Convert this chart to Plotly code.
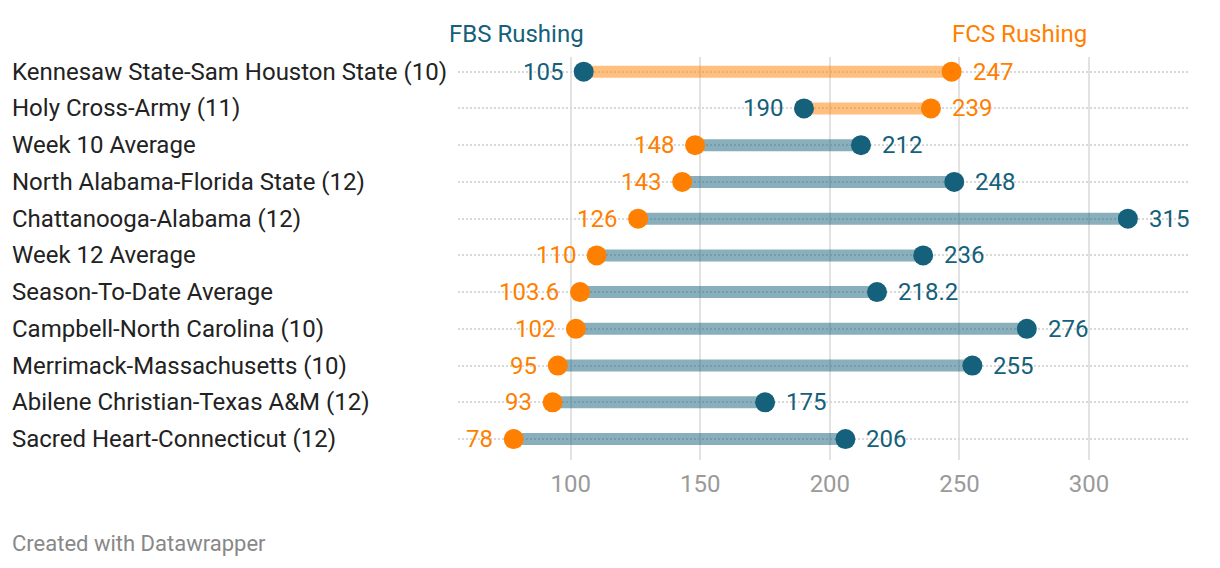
import plotly.graph_objects as go

categories = [
    "Kennesaw State-Sam Houston State (10)",
    "Holy Cross-Army (11)",
    "Week 10 Average",
    "North Alabama-Florida State (12)",
    "Chattanooga-Alabama (12)",
    "Week 12 Average",
    "Season-To-Date Average",
    "Campbell-North Carolina (10)",
    "Merrimack-Massachusetts (10)",
    "Abilene Christian-Texas A&M (12)",
    "Sacred Heart-Connecticut (12)",
]
fbs_rushing = [105, 190, 212, 248, 315, 236, 218.2, 276, 255, 175, 206]
fcs_rushing = [247, 239, 148, 143, 126, 110, 103.6, 102, 95, 93, 78]
fbs_text = ["105", "190", "212", "248", "315", "236", "218.2", "276", "255", "175", "206"]
fcs_text = ["247", "239", "148", "143", "126", "110", "103.6", "102", "95", "93", "78"]
x_ticks = [100, 150, 200, 250, 300]

TEAL = "#15607a"
ORANGE = "#ff7f00"
TEAL_BAR = "rgba(21,96,122,0.5)"
ORANGE_BAR = "rgba(255,127,0,0.5)"
FONT = "Roboto"

rows = list(range(len(categories)))

fig = go.Figure()

# range bars, coloured by which series is larger
ox, oy, tx, ty = [], [], [], []
for i, (a, b) in enumerate(zip(fbs_rushing, fcs_rushing)):
    if b > a:
        ox += [a, b, None]; oy += [i, i, None]
    else:
        tx += [a, b, None]; ty += [i, i, None]
fig.add_trace(go.Scatter(x=ox, y=oy, mode="lines", line=dict(color=ORANGE_BAR, width=12),
                         hoverinfo="skip", showlegend=False))
fig.add_trace(go.Scatter(x=tx, y=ty, mode="lines", line=dict(color=TEAL_BAR, width=12),
                         hoverinfo="skip", showlegend=False))

fig.add_trace(go.Scatter(x=fcs_rushing, y=rows, mode="markers", name="FCS Rushing",
                         marker=dict(color=ORANGE, size=20, line=dict(width=0)), showlegend=False))
fig.add_trace(go.Scatter(x=fbs_rushing, y=rows, mode="markers", name="FBS Rushing",
                         marker=dict(color=TEAL, size=20, line=dict(width=0)), showlegend=False))

annotations = []
for i, cat in enumerate(categories):
    annotations.append(dict(x=(10 - 458) / 730, xref="paper", y=i, yref="y", text=cat, showarrow=False,
                            xanchor="left", yanchor="middle",
                            font=dict(family=FONT, size=24, color="#222222")))
    a, b = fbs_rushing[i], fcs_rushing[i]
    for val, txt, col in ((a, fbs_text[i], TEAL), (b, fcs_text[i], ORANGE)):
        other = b if val == a else a
        left = val < other
        annotations.append(dict(x=val, y=i, xref="x", yref="y", text=txt, showarrow=False,
                                xanchor="right" if left else "left", yanchor="middle",
                                xshift=-19 if left else 19,
                                font=dict(family=FONT, size=24, color=col)))

# series headers above first row
annotations.append(dict(x=fbs_rushing[0], y=0, xref="x", yref="y", text="FBS Rushing",
                        showarrow=False, xanchor="right", yanchor="middle", yshift=38, xshift=2,
                        font=dict(family=FONT, size=24, color=TEAL)))
annotations.append(dict(x=fcs_rushing[0], y=0, xref="x", yref="y", text="FCS Rushing",
                        showarrow=False, xanchor="left", yanchor="middle", yshift=38, xshift=-2,
                        font=dict(family=FONT, size=24, color=ORANGE)))
annotations.append(dict(x=(10 - 458) / 730, y=-(543 - 460) / 403, xref="paper", yref="paper",
                        text="Created with Datawrapper",
                        showarrow=False, xanchor="left", yanchor="middle",
                        font=dict(family=FONT, size=22, color="#888888")))

shapes = []
for v in (fbs_rushing[0], fcs_rushing[0]):
    shapes.append(dict(type="line", xref="x", yref="y", x0=v, x1=v, ysizemode="pixel",
                       yanchor=0, y0=15, y1=25, line=dict(color="#999999", width=1)))

fig.update_layout(
    width=1220, height=568,
    margin=dict(l=458, r=32, t=57, b=108),
    paper_bgcolor="white", plot_bgcolor="white",
    font=dict(family=FONT),
    annotations=annotations, shapes=shapes,
    xaxis=dict(range=[56.5, 338.2], tickvals=x_ticks, ticktext=[str(t) for t in x_ticks],
               showgrid=True, gridcolor="#e2e2e2", gridwidth=2, zeroline=False,
               showline=False, ticks="outside", ticklen=2, tickcolor="rgba(0,0,0,0)",
               tickfont=dict(family=FONT, size=24, color="#9a9a9a"), fixedrange=True),
    yaxis=dict(range=[10.57, -0.4], tickvals=rows, showticklabels=False,
               showgrid=True, gridcolor="#d8d8d8", gridwidth=2, griddash="2px,2px",
               zeroline=False, showline=False, fixedrange=True),
    hovermode=False,
)

fig.write_html("out.html")
